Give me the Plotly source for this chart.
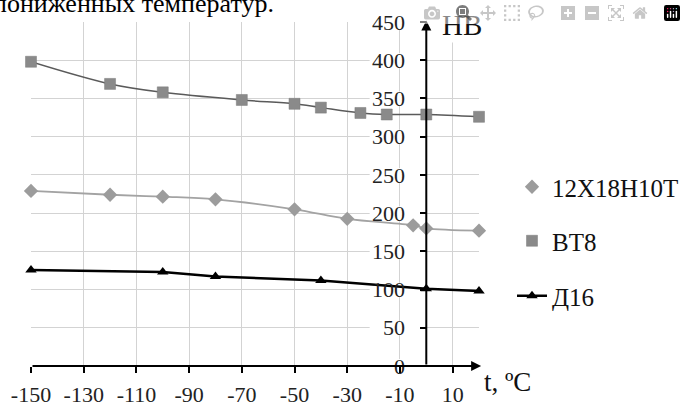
import plotly.graph_objects as go

# ---- data ----
bt8_t = [-150, -120, -100, -70, -50, -40, -25, -15, 0, 20]
bt8_hb = [398, 369, 358, 348, 343, 338, 331, 329, 329, 326]

steel_t = [-150, -120, -100, -80, -50, -30, -5, 0, 20]
steel_hb = [229, 224, 221.5, 218, 205, 192.5, 184, 180, 177]

d16_t = [-150, -100, -80, -40, 0, 20]
d16_hb = [125.5, 123, 117, 112, 101, 98]

x_ticks = [-150, -130, -110, -90, -70, -50, -30, -10, 10]
x_tick_labels = ["-150", "-130", "-110", "-90", "-70", "-50", "-30", "-10", "10"]
y_ticks = [0, 50, 100, 150, 200, 250, 300, 350, 400, 450]
y_tick_labels = ["0", "50", "100", "150", "200", "250", "300", "350", "400", "450"]

names = ["12X18H10T", "BT8", "Д16"]

FONT = "Liberation Serif"
W, H = 686, 404
L, R, T, B = 31, 207, 22, 38
XMIN, XMAX = -150, 20
YMIN, YMAX = 0, 450

fig = go.Figure()

fig.add_trace(go.Scatter(x=bt8_t, y=bt8_hb, mode="lines", line=dict(color="#5a5a5a", width=1.5, shape="spline", smoothing=1.0),
                         showlegend=False, hoverinfo="skip", cliponaxis=False))
fig.add_trace(go.Scatter(x=steel_t, y=steel_hb, mode="lines", line=dict(color="#a3a3a3", width=1.8, shape="spline", smoothing=1.0),
                         showlegend=False, hoverinfo="skip", cliponaxis=False))

fig.add_trace(go.Scatter(x=steel_t, y=steel_hb, mode="markers", name=names[0], legend="legend",
                         marker=dict(symbol="diamond", size=11, color="#9c9c9c"), cliponaxis=False))
fig.add_trace(go.Scatter(x=bt8_t, y=bt8_hb, mode="markers", name=names[1], legend="legend2",
                         marker=dict(symbol="square", size=11, color="#8a8a8a", line=dict(color="#7a7a7a", width=0.5)), cliponaxis=False))
fig.add_trace(go.Scatter(x=d16_t, y=d16_hb, mode="lines+markers", name=names[2], legend="legend3",
                         line=dict(color="black", width=2.5), marker=dict(symbol="triangle-up", size=10, color="black"),
                         cliponaxis=False))

y_axis_pos = (0 - XMIN) / (XMAX - XMIN)

# white backgrounds behind the y tick labels (hide gridlines there)
shapes = []
for v in y_ticks:
    shapes.append(dict(type="rect", xref="x", yref="y", x0=-21.5, x1=-2.2, y0=v - 9, y1=v + 9,
                       fillcolor="white", line=dict(width=0), layer="between"))

annotations = [
    dict(x=XMAX + 0.8, y=0, ax=XMIN, ay=0, xref="x", yref="y", axref="x", ayref="y", text="",
         showarrow=True, arrowhead=2, arrowsize=1, arrowwidth=2, arrowcolor="black", standoff=0),
    dict(x=0, y=YMAX + 2, ax=0, ay=0, xref="x", yref="y", axref="x", ayref="y", text="",
         showarrow=True, arrowhead=2, arrowsize=1, arrowwidth=2, arrowcolor="black", standoff=0),
    dict(x=0, y=YMAX, xref="x", yref="y", text="HB", showarrow=False, xanchor="left", yanchor="middle",
         xshift=14, yshift=-3, font=dict(family=FONT, size=29, color="#111"), bgcolor="white"),
    dict(x=XMAX, y=0, xref="x", yref="y", text="t, ºC", showarrow=False, xanchor="left", yanchor="middle",
         xshift=3, yshift=-16, font=dict(family=FONT, size=27, color="#111")),
    dict(x=0, y=1, xref="paper", yref="paper", text="пониженных температур.", showarrow=False,
         xanchor="left", yanchor="middle", xshift=-40, yshift=19, font=dict(family=FONT, size=26, color="black")),
]

def legend_at(px, py):
    return dict(x=px / W, y=1 - py / H, xref="container", yref="container", xanchor="left", yanchor="middle",
                bgcolor="rgba(0,0,0,0)", font=dict(family=FONT, size=25, color="#111"))

fig.update_layout(
    width=W, height=H,
    margin=dict(l=L, r=R, t=T, b=B, autoexpand=False),
    paper_bgcolor="white", plot_bgcolor="white",
    font=dict(family=FONT, color="#111"),
    xaxis=dict(range=[XMIN, XMAX], tickvals=x_ticks, ticktext=x_tick_labels, showgrid=True,
               gridcolor="#d3d3d3", gridwidth=1, zeroline=False, showline=False, automargin=False,
               ticks="outside", ticklen=6, tickwidth=2, tickcolor="black",
               tickfont=dict(family=FONT, size=22, color="#222"), ticklabelstandoff=3),
    yaxis=dict(range=[YMIN, YMAX], tickvals=y_ticks, ticktext=y_tick_labels, showgrid=True,
               gridcolor="#d3d3d3", gridwidth=1, zeroline=False, showline=False, automargin=False,
               anchor="free", position=y_axis_pos,
               ticks="outside", ticklen=6, tickwidth=2, tickcolor="black",
               tickfont=dict(family=FONT, size=22, color="#222"), ticklabelstandoff=11),
    shapes=shapes,
    annotations=annotations,
    legend=legend_at(512, 187),
    legend2=legend_at(512, 241),
    legend3=legend_at(512, 296),
)

# remove the browser's default page margin and make sure the serif face is used for all chart text
post = (
    "document.body.style.margin='0';"
    "var st=document.createElement('style');"
    "st.textContent='body{margin:0;overflow:hidden;} .js-plotly-plot svg text{font-family:\"Liberation Serif\", \"Times New Roman\", serif !important;}';"
    "document.head.appendChild(st);"
)

fig.write_html("out.html", post_script=post)
